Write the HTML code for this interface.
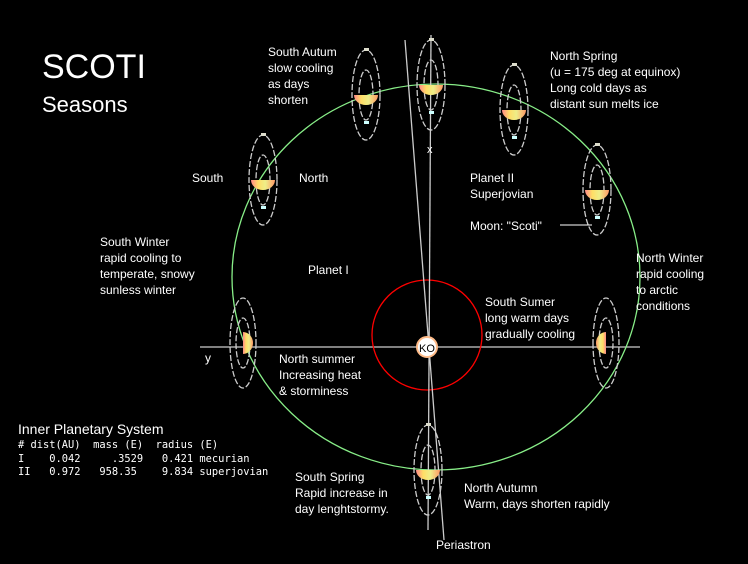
<!DOCTYPE html>
<html><head><style>
body{margin:0;background:#000;}
svg{display:block}
text{fill:#fff;font-family:"Liberation Sans",sans-serif;font-size:12px}
.m{font-family:"DejaVu Sans Mono","Liberation Mono",monospace;font-size:10.4px}
</style></head><body>
<svg width="748" height="564" viewBox="0 0 748 564">
<defs>
<linearGradient id="g" x1="0" x2="1">
<stop offset="0" stop-color="#f88"/><stop offset="0.3" stop-color="#fd6"/><stop offset="0.6" stop-color="#ee8"/><stop offset="1" stop-color="#f96"/>
</linearGradient>
<g id="p">
<ellipse cx="0" cy="0" rx="14" ry="45" fill="none" stroke="#ccc" stroke-width="1.3" stroke-dasharray="6 2"/>
<ellipse cx="0" cy="0" rx="7" ry="25" fill="none" stroke="#ccc" stroke-width="1.3" stroke-dasharray="6 2"/>
<path d="M-12,0 A12,10 0 0 0 12,0 Z" fill="url(#g)"/>
<rect x="-2" y="-47" width="5" height="3" fill="#ddc"/>
<rect x="-2" y="26" width="5" height="3" fill="#cff"/>
</g>
<g id="ps">
<ellipse cx="0" cy="0" rx="13" ry="45" fill="none" stroke="#ccc" stroke-width="1.3" stroke-dasharray="6 2"/>
<ellipse cx="0" cy="0" rx="7" ry="25" fill="none" stroke="#ccc" stroke-width="1.3" stroke-dasharray="6 2"/>
<path d="M0,-11 A10,11 0 0 1 0,11 Z" fill="url(#g)"/>
</g>
</defs>
<text x="42" y="78" style="font-size:34px">SCOTI</text>
<text x="42" y="112" style="font-size:22px">Seasons</text>
<line x1="200" y1="347" x2="640" y2="347" stroke="#ccc" stroke-width="1.3"/>
<ellipse cx="436" cy="277" rx="204" ry="193" fill="none" stroke="#8e8" stroke-width="1.3"/>
<circle cx="427" cy="335" r="55" fill="none" stroke="#f00" stroke-width="1.3"/>
<line x1="405" y1="40" x2="444" y2="540" stroke="#ccc" stroke-width="1.3"/>
<line x1="431" y1="35" x2="428" y2="530" stroke="#ccc" stroke-width="1.3"/>
<use href="#p" x="366" y="95"/>
<use href="#p" x="431" y="85"/>
<use href="#p" x="514" y="110"/>
<use href="#p" x="597" y="190"/>
<use href="#p" x="263" y="180"/>
<use href="#p" x="428" y="470"/>
<use href="#ps" x="243" y="343"/>
<g transform="translate(606,343) scale(-1,1)"><use href="#ps"/></g>
<circle cx="427" cy="347" r="10" fill="#fff" stroke="#fb8" stroke-width="2"/>
<text x="419" y="352" style="font-size:11px;fill:#000">KO</text>
<text x="427" y="153" style="font-size:11px">x</text>
<line x1="560" y1="225" x2="592" y2="225" stroke="#fff"/>
<text x="268" y="56">South Autum</text><text x="268" y="72">slow cooling</text><text x="268" y="88">as days</text><text x="268" y="104">shorten</text>
<text x="550" y="60">North Spring</text><text x="550" y="76">(u = 175 deg at equinox)</text><text x="550" y="92">Long cold days as</text><text x="550" y="108">distant sun melts ice</text>
<text x="192" y="182">South</text><text x="299" y="182">North</text>
<text x="470" y="182">Planet II</text><text x="470" y="198">Superjovian</text>
<text x="470" y="230">Moon: "Scoti"</text>
<text x="100" y="246">South Winter</text><text x="100" y="262">rapid cooling to</text><text x="100" y="278">temperate, snowy</text><text x="100" y="294">sunless winter</text>
<text x="636" y="262">North Winter</text><text x="636" y="278">rapid cooling</text><text x="636" y="294">to arctic</text><text x="636" y="310">conditions</text>
<text x="308" y="274">Planet I</text>
<text x="485" y="306">South Sumer</text><text x="485" y="322">long warm days</text><text x="485" y="338">gradually cooling</text>
<text x="205" y="362">y</text>
<text x="279" y="363">North summer</text><text x="279" y="379">Increasing heat</text><text x="279" y="395">&amp; storminess</text>
<text x="18" y="434" style="font-size:14px">Inner Planetary System</text>
<text class="m" x="18" y="448" xml:space="preserve"># dist(AU)  mass (E)  radius (E)</text>
<text class="m" x="18" y="462" xml:space="preserve">I    0.042     .3529   0.421 mecurian</text>
<text class="m" x="18" y="475" xml:space="preserve">II   0.972   958.35    9.834 superjovian</text>
<text x="295" y="481">South Spring</text><text x="295" y="497">Rapid increase in</text><text x="295" y="513">day lenghtstormy.</text>
<text x="464" y="492">North Autumn</text><text x="464" y="508">Warm, days shorten rapidly</text>
<text x="436" y="549">Periastron</text>
</svg>
</body></html>
